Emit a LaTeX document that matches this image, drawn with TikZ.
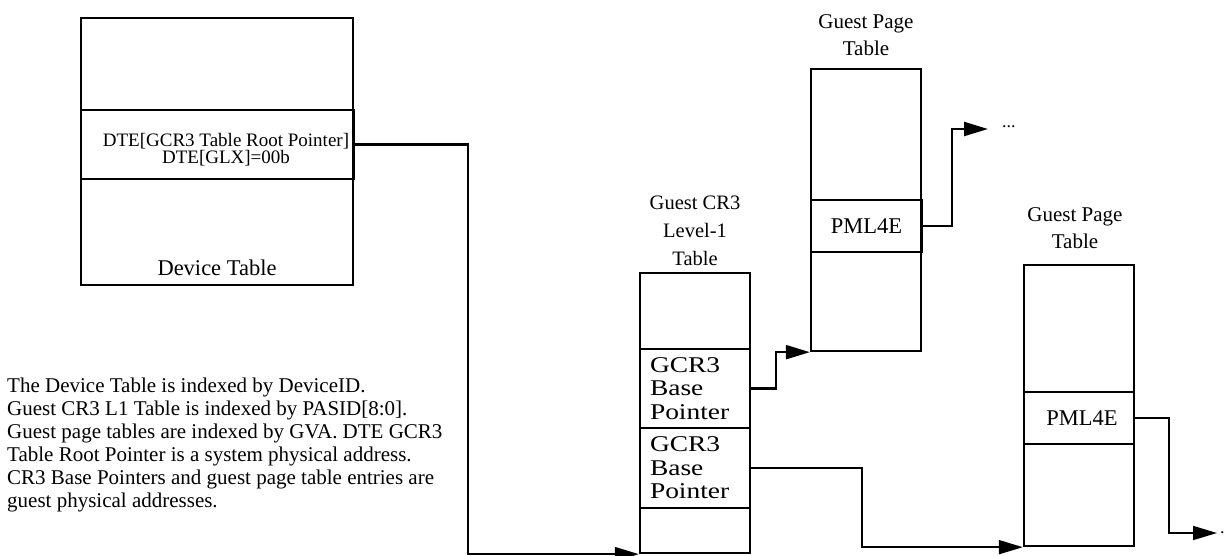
\documentclass[tikz,border=0pt]{standalone}
\usepackage{fontspec}
\setmainfont{Liberation Serif}
\newfontfamily\widefont[FakeStretch=1.22]{Liberation Serif}
\usetikzlibrary{arrows.meta}
\begin{document}
\begin{tikzpicture}[x=1pt,y=-1pt,
  tbl/.style={draw,line width=2.3pt,inner sep=0pt,minimum width=110pt},
  conn/.style={line width=2.3pt,-{Triangle[length=24pt,width=14pt]}},
  thinconn/.style={line width=1.8pt,-{Triangle[length=24pt,width=14pt]}},
  ttl/.style={align=center,inner sep=0pt,font=\fontsize{21}{27}\selectfont},
  cell/.style={font=\fontsize{22.5}{26}\selectfont},
  ptr/.style={text width=90pt,inner xsep=10pt,align=left,font=\widefont\fontsize{22.5}{23.5}\selectfont},
  dotsty/.style={inner ysep=0pt,font=\fontsize{18}{18}\selectfont}
]
\useasboundingbox (0,0) rectangle (1225,555);

% Device table
\node[tbl,minimum width=272pt,minimum height=267pt] (dt) at (217,151.5) {};
\node[tbl,minimum width=273pt,minimum height=69pt] (dterow) at (217.5,144.5) {};
\node[align=center,inner sep=0pt,font=\fontsize{19}{15.5}\selectfont] (dtetxt) at (226,150)
  {DTE[GCR3 Table Root Pointer]\\DTE[GLX]=00b};
\node[cell,inner sep=0pt] (dtlabel) at (217,268) {Device Table};

% Description
\node[anchor=north west,align=left,inner sep=0pt,font=\fontsize{21}{23}\selectfont] (desc) at (7,378)
  {The Device Table is indexed by DeviceID.\\
   Guest CR3 L1 Table is indexed by PASID[8:0].\\
   Guest page tables are indexed by GVA. DTE GCR3\\
   Table Root Pointer is a system physical address.\\
   CR3 Base Pointers and guest page table entries are\\
   guest physical addresses.};

% Guest CR3 Level-1 table
\node[ttl,font=\fontsize{20.5}{28}\selectfont] (gcrtitle) at (695,231) {Guest CR3\\Level-1\\Table};
\node[tbl,minimum height=280pt] (gcr) at (695,413) {};
\node[tbl,ptr,minimum height=79pt] (gcrA) at (695,388.5) {GCR3\\Base\\Pointer};
\node[tbl,ptr,minimum height=80pt] (gcrB) at (695,468) {GCR3\\Base\\Pointer};

% Guest page table 1
\node[ttl] (gpt1title) at (866,35) {Guest Page\\Table};
\node[tbl,minimum height=282pt] (gpt1) at (866,210) {};
\node[tbl,cell,minimum width=111pt,minimum height=52pt] (pml1) at (866.5,226) {PML4E};
\node[dotsty,anchor=west,inner xsep=14pt] (dots1) at (988,129) {\raisebox{5pt}{...}};

% Guest page table 2
\node[ttl] (gpt2title) at (1075,228) {Guest Page\\Table};
\node[tbl,minimum height=281pt] (gpt2) at (1079,405.5) {};
\node[tbl,cell,minimum height=52pt] (pml2) at (1079,418) {\hspace*{6pt}PML4E};
\node[dotsty,anchor=west,inner xsep=3pt] (dots2) at (1217,533) {.};

% Connectors
\draw[conn] (dterow.east) -- ++(113,0) |- (gcr.south west);
\draw[conn] (gcrA.east) -- ++(25,0) |- (gpt1.south west);
\draw[thinconn] (gcrB.east) -- ++(111,0) |- (gpt2.south west);
\draw[conn] (pml1.east) -- ++(29,0) |- (dots1.west);
\draw[thinconn] (pml2.east) -- ++(34,0) |- (dots2.west);
\end{tikzpicture}
\end{document}
